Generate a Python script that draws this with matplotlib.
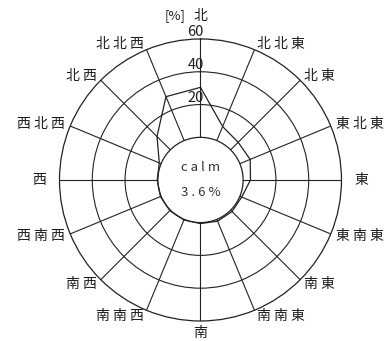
import numpy as np
import matplotlib
matplotlib.use("Agg")
import matplotlib.pyplot as plt

plt.rcParams['font.family'] = ['Noto Sans CJK JP', 'DejaVu Sans']

# 風向 (北から時計回り)
directions = ['北', '北北東', '北東', '東北東', '東', '東南東', '南東', '南南東',
              '南', '南南西', '南西', '西南西', '西', '西北西', '北西', '北北西']
# 出現率 [%]
freq = [30.5, 9.3, 6.5, 6.8, 4.5, 1.2, 1.2, 1.2,
        0.6, 0.4, 0.4, 0.4, 0.4, 1.2, 11.5, 29.0]
calm = 3.6
rings = [20, 40, 60]

line_c = '#222222'
text_c = '#1e1e1e'

fig = plt.figure(figsize=(3.87, 3.41), dpi=100)
ax = fig.add_axes([0.1537, 0.0587, 0.7287, 0.827], projection='polar')
ax.set_theta_zero_location('N')
ax.set_theta_direction(-1)
ax.set_rlim(0, rings[-1])
ax.set_rorigin(-26)

theta = np.deg2rad(np.arange(len(directions)) * 360 / len(directions))
ax.set_xticks(theta)
ax.set_xticklabels([])
ax.set_yticks(rings[:-1])
ax.set_yticklabels([])
ax.grid(True, color=line_c, linewidth=0.8, linestyle='-')
for s in ax.spines.values():
    s.set_color(line_c)
    s.set_linewidth(0.9)

# 風配図
th = np.append(theta, theta[0])
fr = np.append(freq, freq[0])
ax.plot(th, fr, color=line_c, linewidth=0.9, clip_on=False)

# 方位ラベル (外円からのすき間 px)
for t, name in zip(theta, directions):
    sn, cs = np.sin(t), np.cos(t)
    if abs(sn) < 0.01:
        ha = 'center'
        gap = 23 if cs > 0 else 12
    else:
        ha = 'left' if sn > 0 else 'right'
        gap = 13 if abs(cs) < 0.01 else 6
    ax.annotate(' '.join(name), xy=(t, rings[-1]), xytext=(gap * sn, gap * cs),
                textcoords='offset pixels', ha=ha, va='center', fontsize=10,
                color=text_c, annotation_clip=False)
ax.annotate('[%]', xy=(0, rings[-1]), xytext=(-25, 23), textcoords='offset pixels',
            ha='center', va='center', fontsize=9.5, color=text_c,
            annotation_clip=False)

# 目盛り
for v in rings:
    ax.annotate(str(v), xy=(0, v), xytext=(-5, 0), textcoords='offset pixels',
                ha='center', va='bottom', fontsize=10.5, color=text_c,
                annotation_clip=False)

# calm
ax.text(0.5, 0.543, 'c a l m', transform=ax.transAxes, ha='center', va='center',
        fontsize=9.5, color='#333333')
ax.text(0.5, 0.457, ' '.join(f'{calm}%'), transform=ax.transAxes, ha='center',
        va='center', fontsize=9.5, color='#333333')

fig.savefig('out.png', dpi=100, facecolor='white')
